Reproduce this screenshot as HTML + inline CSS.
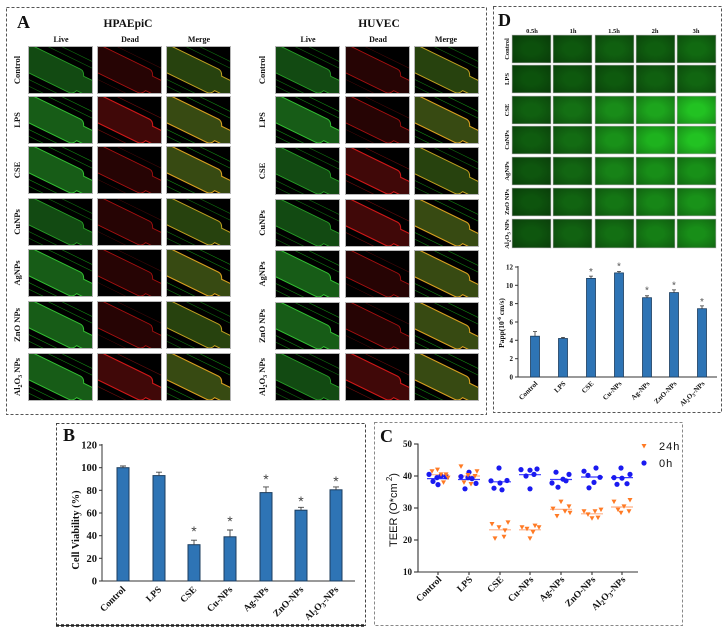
<!DOCTYPE html>
<html><head><meta charset="utf-8"><style>
html,body{margin:0;padding:0;background:#fff;}
svg{display:block;}
.s{font-family:"Liberation Serif",serif;font-weight:bold;fill:#111;}
.a{font-family:"Liberation Sans",sans-serif;fill:#111;}
.st{font-family:"Liberation Sans",sans-serif;}
</style></head><body>
<svg width="726" height="634" viewBox="0 0 726 634" xmlns="http://www.w3.org/2000/svg">
<defs>
<radialGradient id="vig" cx="50%" cy="50%" r="70%">
<stop offset="0.3" stop-color="#000" stop-opacity="0"/>
<stop offset="1" stop-color="#000" stop-opacity="0.28"/>
</radialGradient>
<symbol id="lvA" viewBox="0 0 65 48">
<rect width="65" height="48" fill="#000"/>
<g transform="translate(0,12) rotate(26)">
<path d="M-40,-19H100M-40,-25H100M-40,19H100M-40,25H100" stroke="#0f6a0f" stroke-width="0.6"/>
<path d="M-30,-13H52Q56,-13 58,-8H90V8H58Q56,13 52,13H-30Z" fill="#124a12" stroke="#27a027" stroke-width="0.9"/>
</g>
<rect x="0.5" y="0.5" width="64" height="47" fill="none" stroke="#b5b5b5"/>
</symbol>
<symbol id="lvB" viewBox="0 0 65 48">
<rect width="65" height="48" fill="#000"/>
<g transform="translate(0,12) rotate(26)">
<path d="M-40,-19H100M-40,-25H100M-40,19H100M-40,25H100" stroke="#128012" stroke-width="0.6"/>
<path d="M-30,-13H52Q56,-13 58,-8H90V8H58Q56,13 52,13H-30Z" fill="#175c17" stroke="#33c033" stroke-width="1"/>
</g>
<rect x="0.5" y="0.5" width="64" height="47" fill="none" stroke="#b5b5b5"/>
</symbol>
<symbol id="ddA" viewBox="0 0 65 48">
<rect width="65" height="48" fill="#000"/>
<g transform="translate(0,12) rotate(26)">
<path d="M-40,-19H100M-40,19H100" stroke="#4a0808" stroke-width="0.5"/>
<path d="M-30,-13H52Q56,-13 58,-8H90V8H58Q56,13 52,13H-30Z" fill="#260404" stroke="#a81010" stroke-width="0.9"/>
</g>
<rect x="0.5" y="0.5" width="64" height="47" fill="none" stroke="#b5b5b5"/>
</symbol>
<symbol id="ddB" viewBox="0 0 65 48">
<rect width="65" height="48" fill="#000"/>
<g transform="translate(0,12) rotate(26)">
<path d="M-40,-19H100M-40,19H100" stroke="#6a0c0c" stroke-width="0.6"/>
<path d="M-30,-13H52Q56,-13 58,-8H90V8H58Q56,13 52,13H-30Z" fill="#400808" stroke="#d01818" stroke-width="1.1"/>
</g>
<rect x="0.5" y="0.5" width="64" height="47" fill="none" stroke="#b5b5b5"/>
</symbol>
<symbol id="mgA" viewBox="0 0 65 48">
<rect width="65" height="48" fill="#000"/>
<g transform="translate(0,12) rotate(26)">
<path d="M-40,-19H100M-40,-25H100M-40,19H100M-40,25H100" stroke="#0f6a0f" stroke-width="0.6"/>
<path d="M-30,-13H52Q56,-13 58,-8H90V8H58Q56,13 52,13H-30Z" fill="#27420e" stroke="#c0a020" stroke-width="1"/>
</g>
<rect x="0.5" y="0.5" width="64" height="47" fill="none" stroke="#b5b5b5"/>
</symbol>
<symbol id="mgB" viewBox="0 0 65 48">
<rect width="65" height="48" fill="#000"/>
<g transform="translate(0,12) rotate(26)">
<path d="M-40,-19H100M-40,-25H100M-40,19H100M-40,25H100" stroke="#128012" stroke-width="0.6"/>
<path d="M-30,-13H52Q56,-13 58,-8H90V8H58Q56,13 52,13H-30Z" fill="#374a12" stroke="#d8a020" stroke-width="1.1"/>
</g>
<rect x="0.5" y="0.5" width="64" height="47" fill="none" stroke="#b5b5b5"/>
</symbol>
</defs>

<!-- Panel borders -->
<g fill="none" stroke-dasharray="3,2">
<rect x="6.5" y="7.5" width="480" height="407" stroke="#555"/>
<rect x="493.5" y="6.5" width="228" height="406" stroke="#555"/>
<rect x="56.5" y="423.5" width="309" height="202" stroke="#444"/>
<line x1="56" y1="625.5" x2="366" y2="625.5" stroke="#222" stroke-width="2.5"/>
<rect x="374.5" y="422.5" width="308" height="203" stroke="#888"/>
</g>

<!-- Panel A -->
<text class="s" x="17" y="28" font-size="18">A</text>
<text class="s" x="128" y="27" font-size="11.5" text-anchor="middle">HPAEpiC</text>
<text class="s" x="379" y="27" font-size="11.5" text-anchor="middle">HUVEC</text>
<g class="s" font-size="8" text-anchor="middle">
<text x="61" y="42">Live</text><text x="130" y="42">Dead</text><text x="199" y="42">Merge</text>
<text x="308" y="42">Live</text><text x="378" y="42">Dead</text><text x="446" y="42">Merge</text>
</g>
<g class="s" font-size="8.5" text-anchor="middle">
<text transform="translate(20,70) rotate(-90)">Control</text>
<text transform="translate(20,120) rotate(-90)">LPS</text>
<text transform="translate(20,170) rotate(-90)">CSE</text>
<text transform="translate(20,222) rotate(-90)">CuNPs</text>
<text transform="translate(20,273) rotate(-90)">AgNPs</text>
<text transform="translate(20,325) rotate(-90)">ZnO NPs</text>
<text transform="translate(20,377) rotate(-90)">Al<tspan font-size="6" dy="2">2</tspan><tspan dy="-2">O</tspan><tspan font-size="6" dy="2">3</tspan><tspan dy="-2"> NPs</tspan></text>
<text transform="translate(265,70) rotate(-90)">Control</text>
<text transform="translate(265,120) rotate(-90)">LPS</text>
<text transform="translate(265,171) rotate(-90)">CSE</text>
<text transform="translate(265,223) rotate(-90)">CuNPs</text>
<text transform="translate(265,274) rotate(-90)">AgNPs</text>
<text transform="translate(265,326) rotate(-90)">ZnO NPs</text>
<text transform="translate(265,377) rotate(-90)">Al<tspan font-size="6" dy="2">2</tspan><tspan dy="-2">O</tspan><tspan font-size="6" dy="2">3</tspan><tspan dy="-2"> NPs</tspan></text>
</g>
<!-- HPAEpiC images -->
<use href="#lvA" x="28" y="46" width="65" height="48"/><use href="#ddA" x="97" y="46" width="65" height="48"/><use href="#mgA" x="166" y="46" width="65" height="48"/>
<use href="#lvB" x="28" y="96" width="65" height="48"/><use href="#ddB" x="97" y="96" width="65" height="48"/><use href="#mgB" x="166" y="96" width="65" height="48"/>
<use href="#lvB" x="28" y="146" width="65" height="48"/><use href="#ddA" x="97" y="146" width="65" height="48"/><use href="#mgB" x="166" y="146" width="65" height="48"/>
<use href="#lvA" x="28" y="198" width="65" height="48"/><use href="#ddA" x="97" y="198" width="65" height="48"/><use href="#mgA" x="166" y="198" width="65" height="48"/>
<use href="#lvB" x="28" y="249" width="65" height="48"/><use href="#ddA" x="97" y="249" width="65" height="48"/><use href="#mgB" x="166" y="249" width="65" height="48"/>
<use href="#lvB" x="28" y="301" width="65" height="48"/><use href="#ddA" x="97" y="301" width="65" height="48"/><use href="#mgA" x="166" y="301" width="65" height="48"/>
<use href="#lvB" x="28" y="353" width="65" height="48"/><use href="#ddB" x="97" y="353" width="65" height="48"/><use href="#mgB" x="166" y="353" width="65" height="48"/>
<!-- HUVEC images -->
<use href="#lvA" x="275" y="46" width="65" height="48"/><use href="#ddA" x="345" y="46" width="65" height="48"/><use href="#mgA" x="414" y="46" width="65" height="48"/>
<use href="#lvB" x="275" y="96" width="65" height="48"/><use href="#ddA" x="345" y="96" width="65" height="48"/><use href="#mgB" x="414" y="96" width="65" height="48"/>
<use href="#lvA" x="275" y="147" width="65" height="48"/><use href="#ddB" x="345" y="147" width="65" height="48"/><use href="#mgA" x="414" y="147" width="65" height="48"/>
<use href="#lvA" x="275" y="199" width="65" height="48"/><use href="#ddB" x="345" y="199" width="65" height="48"/><use href="#mgB" x="414" y="199" width="65" height="48"/>
<use href="#lvB" x="275" y="250" width="65" height="48"/><use href="#ddA" x="345" y="250" width="65" height="48"/><use href="#mgB" x="414" y="250" width="65" height="48"/>
<use href="#lvB" x="275" y="302" width="65" height="48"/><use href="#ddA" x="345" y="302" width="65" height="48"/><use href="#mgB" x="414" y="302" width="65" height="48"/>
<use href="#lvA" x="275" y="353" width="65" height="48"/><use href="#ddB" x="345" y="353" width="65" height="48"/><use href="#mgB" x="414" y="353" width="65" height="48"/>

<!-- Panel D -->
<text class="s" x="498" y="26" font-size="18">D</text>
<g class="s" font-size="6.5" text-anchor="middle">
<text x="532" y="33">0.5h</text><text x="573" y="33">1h</text><text x="614" y="33">1.5h</text><text x="655" y="33">2h</text><text x="696" y="33">3h</text>
</g>
<g class="s" font-size="6.5" text-anchor="middle">
<text transform="translate(509,49) rotate(-90)">Control</text>
<text transform="translate(509,79) rotate(-90)">LPS</text>
<text transform="translate(509,110) rotate(-90)">CSE</text>
<text transform="translate(509,140) rotate(-90)">CuNPs</text>
<text transform="translate(509,171) rotate(-90)">AgNPs</text>
<text transform="translate(509,202) rotate(-90)">ZnO NPs</text>
<text transform="translate(509,234) rotate(-90)">Al<tspan font-size="5" dy="1.5">2</tspan><tspan dy="-1.5">O</tspan><tspan font-size="5" dy="1.5">3</tspan><tspan dy="-1.5"> NPs</tspan></text>
</g>
<g stroke="#d8d8d8" stroke-width="0.8">
<rect x="512" y="35" width="39" height="28" fill="#0c500c"/><rect x="553" y="35" width="39" height="28" fill="#0e580e"/><rect x="595" y="35" width="39" height="28" fill="#106010"/><rect x="636" y="35" width="39" height="28" fill="#0f5e0f"/><rect x="677" y="35" width="39" height="28" fill="#116a11"/>
<rect x="512" y="65" width="39" height="28" fill="#0c520c"/><rect x="553" y="65" width="39" height="28" fill="#0e590e"/><rect x="595" y="65" width="39" height="28" fill="#0e5a0e"/><rect x="636" y="65" width="39" height="28" fill="#106010"/><rect x="677" y="65" width="39" height="28" fill="#116611"/>
<rect x="512" y="96" width="39" height="28" fill="#106010"/><rect x="553" y="96" width="39" height="28" fill="#147014"/><rect x="595" y="96" width="39" height="28" fill="#198c19"/><rect x="636" y="96" width="39" height="28" fill="#1da51d"/><rect x="677" y="96" width="39" height="28" fill="#22c222"/>
<rect x="512" y="126" width="39" height="28" fill="#0f5c0f"/><rect x="553" y="126" width="39" height="28" fill="#136c13"/><rect x="595" y="126" width="39" height="28" fill="#199119"/><rect x="636" y="126" width="39" height="28" fill="#1eb21e"/><rect x="677" y="126" width="39" height="28" fill="#22c222"/>
<rect x="512" y="157" width="39" height="28" fill="#0e560e"/><rect x="553" y="157" width="39" height="28" fill="#126612"/><rect x="595" y="157" width="39" height="28" fill="#178217"/><rect x="636" y="157" width="39" height="28" fill="#188e18"/><rect x="677" y="157" width="39" height="28" fill="#189018"/>
<rect x="512" y="188" width="39" height="28" fill="#0d540d"/><rect x="553" y="188" width="39" height="28" fill="#116411"/><rect x="595" y="188" width="39" height="28" fill="#147614"/><rect x="636" y="188" width="39" height="28" fill="#178617"/><rect x="677" y="188" width="39" height="28" fill="#199219"/>
<rect x="512" y="219" width="39" height="29" fill="#0e560e"/><rect x="553" y="219" width="39" height="29" fill="#116211"/><rect x="595" y="219" width="39" height="29" fill="#136f13"/><rect x="636" y="219" width="39" height="29" fill="#157e15"/><rect x="677" y="219" width="39" height="29" fill="#188e18"/>
</g>
<g fill="url(#vig)">
<rect x="512" y="35" width="39" height="28"/><rect x="553" y="35" width="39" height="28"/><rect x="595" y="35" width="39" height="28"/><rect x="636" y="35" width="39" height="28"/><rect x="677" y="35" width="39" height="28"/>
<rect x="512" y="65" width="39" height="28"/><rect x="553" y="65" width="39" height="28"/><rect x="595" y="65" width="39" height="28"/><rect x="636" y="65" width="39" height="28"/><rect x="677" y="65" width="39" height="28"/>
<rect x="512" y="96" width="39" height="28"/><rect x="553" y="96" width="39" height="28"/><rect x="595" y="96" width="39" height="28"/><rect x="636" y="96" width="39" height="28"/><rect x="677" y="96" width="39" height="28"/>
<rect x="512" y="126" width="39" height="28"/><rect x="553" y="126" width="39" height="28"/><rect x="595" y="126" width="39" height="28"/><rect x="636" y="126" width="39" height="28"/><rect x="677" y="126" width="39" height="28"/>
<rect x="512" y="157" width="39" height="28"/><rect x="553" y="157" width="39" height="28"/><rect x="595" y="157" width="39" height="28"/><rect x="636" y="157" width="39" height="28"/><rect x="677" y="157" width="39" height="28"/>
<rect x="512" y="188" width="39" height="28"/><rect x="553" y="188" width="39" height="28"/><rect x="595" y="188" width="39" height="28"/><rect x="636" y="188" width="39" height="28"/><rect x="677" y="188" width="39" height="28"/>
<rect x="512" y="219" width="39" height="29"/><rect x="553" y="219" width="39" height="29"/><rect x="595" y="219" width="39" height="29"/><rect x="636" y="219" width="39" height="29"/><rect x="677" y="219" width="39" height="29"/>
</g>

<!-- D bar chart -->
<g stroke="#333" stroke-width="1">
<line x1="518" y1="266" x2="518" y2="377.5"/>
<line x1="518" y1="377" x2="717" y2="377"/>
<line x1="515" y1="377" x2="518" y2="377"/><line x1="515" y1="358.7" x2="518" y2="358.7"/><line x1="515" y1="340.3" x2="518" y2="340.3"/><line x1="515" y1="322" x2="518" y2="322"/><line x1="515" y1="303.6" x2="518" y2="303.6"/><line x1="515" y1="285.3" x2="518" y2="285.3"/><line x1="515" y1="267" x2="518" y2="267"/>
</g>
<g class="s" font-size="7" text-anchor="end">
<text x="513" y="379.5">0</text><text x="513" y="361.2">2</text><text x="513" y="342.8">4</text><text x="513" y="324.5">6</text><text x="513" y="306.1">8</text><text x="513" y="287.8">10</text><text x="513" y="269.5">12</text>
</g>
<text class="s" font-size="7.5" text-anchor="middle" transform="translate(504,323) rotate(-90)">Papp(10<tspan font-size="5" dy="-3">-6</tspan><tspan dy="3"> cm/s)</tspan></text>
<g fill="#2e74b5" stroke="#1c3d5e" stroke-width="0.8">
<rect x="530.5" y="336.2" width="9" height="40.8"/>
<rect x="558.5" y="338.5" width="9" height="38.5"/>
<rect x="586.5" y="278.4" width="9" height="98.6"/>
<rect x="614.5" y="272.9" width="9" height="104.1"/>
<rect x="642.5" y="297.7" width="9" height="79.3"/>
<rect x="669.5" y="292.6" width="9" height="84.4"/>
<rect x="697.5" y="308.7" width="9" height="68.3"/>
</g>
<g stroke="#333" stroke-width="0.8">
<path d="M535,336.2V331.6M533,331.6H537"/>
<path d="M563,338.5V337.4M561,337.4H565"/>
<path d="M591,278.4V276.1M589,276.1H593"/>
<path d="M619,272.9V271.5M617,271.5H621"/>
<path d="M647,297.7V295.8M645,295.8H649"/>
<path d="M674,292.6V289.9M672,289.9H676"/>
<path d="M702,308.7V305.9M700,305.9H704"/>
</g>
<g class="st" font-size="10" text-anchor="middle" fill="#555">
<text x="591" y="275">*</text><text x="619" y="269.5">*</text><text x="647" y="293.5">*</text><text x="674" y="288.5">*</text><text x="702" y="305">*</text>
</g>
<g class="s" font-size="7" text-anchor="end">
<text transform="translate(538,384) rotate(-45)">Control</text>
<text transform="translate(566,384) rotate(-45)">LPS</text>
<text transform="translate(594,384) rotate(-45)">CSE</text>
<text transform="translate(622,384) rotate(-45)">Cu-NPs</text>
<text transform="translate(650,384) rotate(-45)">Ag-NPs</text>
<text transform="translate(677,384) rotate(-45)">ZnO-NPs</text>
<text transform="translate(705,384) rotate(-45)">Al<tspan font-size="5" dy="1.5">2</tspan><tspan dy="-1.5">O</tspan><tspan font-size="5" dy="1.5">3</tspan><tspan dy="-1.5">-NPs</tspan></text>
</g>

<!-- Panel B -->
<text class="s" x="63" y="441" font-size="18">B</text>
<g stroke="#333" stroke-width="1">
<line x1="102" y1="444" x2="102" y2="581.5"/>
<line x1="102" y1="581" x2="355" y2="581"/>
<line x1="99" y1="581" x2="102" y2="581"/><line x1="99" y1="558.3" x2="102" y2="558.3"/><line x1="99" y1="535.7" x2="102" y2="535.7"/><line x1="99" y1="513" x2="102" y2="513"/><line x1="99" y1="490.3" x2="102" y2="490.3"/><line x1="99" y1="467.7" x2="102" y2="467.7"/><line x1="99" y1="445" x2="102" y2="445"/>
</g>
<g class="s" font-size="10.5" text-anchor="end">
<text x="97" y="584.5">0</text><text x="97" y="561.8">20</text><text x="97" y="539.2">40</text><text x="97" y="516.5">60</text><text x="97" y="493.8">80</text><text x="97" y="471.2">100</text><text x="97" y="448.5">120</text>
</g>
<text class="s" font-size="10.5" text-anchor="middle" transform="translate(79,530) rotate(-90)">Cell Viability (%)</text>
<g fill="#2e74b5" stroke="#1c3d5e" stroke-width="1">
<rect x="117" y="467.7" width="12" height="113.3"/>
<rect x="153" y="475.6" width="12" height="105.4"/>
<rect x="188" y="544.7" width="12" height="36.3"/>
<rect x="224" y="536.8" width="12" height="44.2"/>
<rect x="260" y="492.6" width="12" height="88.4"/>
<rect x="295" y="510.2" width="12" height="70.8"/>
<rect x="330" y="489.8" width="12" height="91.2"/>
</g>
<g stroke="#444" stroke-width="0.9">
<path d="M123,467.7V466M120,466H126"/>
<path d="M159,475.6V472.2M156,472.2H162"/>
<path d="M194,544.7V540.2M191,540.2H197"/>
<path d="M230,536.8V530M227,530H233"/>
<path d="M266,492.6V486.9M263,486.9H269"/>
<path d="M301,510.2V507.3M298,507.3H304"/>
<path d="M336,489.8V486.9M333,486.9H339"/>
</g>
<g class="st" font-size="14" text-anchor="middle" fill="#444">
<text x="194" y="536">*</text><text x="230" y="526">*</text><text x="266" y="484">*</text><text x="301" y="506">*</text><text x="336" y="486">*</text>
</g>
<g class="s" font-size="9.5" text-anchor="end">
<text transform="translate(126,590) rotate(-45)">Control</text>
<text transform="translate(162,590) rotate(-45)">LPS</text>
<text transform="translate(197,590) rotate(-45)">CSE</text>
<text transform="translate(233,590) rotate(-45)">Cu-NPs</text>
<text transform="translate(269,590) rotate(-45)">Ag-NPs</text>
<text transform="translate(304,590) rotate(-45)">ZnO-NPs</text>
<text transform="translate(339,590) rotate(-45)">Al<tspan font-size="7" dy="2">2</tspan><tspan dy="-2">O</tspan><tspan font-size="7" dy="2">3</tspan><tspan dy="-2">-NPs</tspan></text>
</g>

<!-- Panel C -->
<text class="s" x="380" y="442" font-size="18">C</text>
<g stroke="#333" stroke-width="1.1">
<line x1="418" y1="443.5" x2="418" y2="572.5"/>
<line x1="418" y1="572" x2="638" y2="572"/>
<line x1="414" y1="572" x2="418" y2="572"/><line x1="414" y1="540" x2="418" y2="540"/><line x1="414" y1="508" x2="418" y2="508"/><line x1="414" y1="476" x2="418" y2="476"/><line x1="414" y1="444" x2="418" y2="444"/>
<line x1="438" y1="572" x2="438" y2="575"/><line x1="469" y1="572" x2="469" y2="575"/><line x1="500" y1="572" x2="500" y2="575"/><line x1="530" y1="572" x2="530" y2="575"/><line x1="561" y1="572" x2="561" y2="575"/><line x1="592" y1="572" x2="592" y2="575"/><line x1="622" y1="572" x2="622" y2="575"/>
</g>
<g class="s" font-size="9" text-anchor="end">
<text x="412" y="575">10</text><text x="412" y="543">20</text><text x="412" y="511">30</text><text x="412" y="479">40</text><text x="412" y="447">50</text>
</g>
<text class="a" font-size="11" text-anchor="middle" transform="translate(397,510) rotate(-90)">TEER (O*cm<tspan font-size="8" dy="-5"> 2</tspan><tspan dy="5">)</tspan></text>
<!-- mean lines -->
<g stroke="#3b3bff" stroke-width="1.2">
<line x1="427" y1="478.6" x2="449" y2="478.6"/><line x1="458" y1="479.5" x2="480" y2="479.5"/><line x1="489" y1="481.8" x2="511" y2="481.8"/><line x1="519" y1="474.7" x2="541" y2="474.7"/><line x1="550" y1="479.5" x2="572" y2="479.5"/><line x1="581" y1="477" x2="603" y2="477"/><line x1="611" y1="477.6" x2="633" y2="477.6"/>
</g>
<g stroke="#ffb088" stroke-width="1.2">
<line x1="427" y1="474.7" x2="449" y2="474.7"/><line x1="458" y1="476" x2="480" y2="476"/><line x1="489" y1="529.8" x2="511" y2="529.8"/><line x1="519" y1="529.8" x2="541" y2="529.8"/><line x1="550" y1="509.3" x2="572" y2="509.3"/><line x1="581" y1="513.8" x2="603" y2="513.8"/><line x1="611" y1="507" x2="633" y2="507"/>
</g>
<!-- 0h blue dots -->
<g fill="#1a1af0">
<circle cx="429" cy="474.4" r="2.6"/><circle cx="433" cy="481.4" r="2.6"/><circle cx="437" cy="477.6" r="2.6"/><circle cx="441" cy="476" r="2.6"/><circle cx="438" cy="484.6" r="2.6"/><circle cx="446" cy="476.6" r="2.6"/>
<circle cx="461" cy="476.6" r="2.6"/><circle cx="465" cy="488.8" r="2.6"/><circle cx="469" cy="472.2" r="2.6"/><circle cx="472" cy="478.6" r="2.6"/><circle cx="476" cy="483.4" r="2.6"/><circle cx="468" cy="477.6" r="2.6"/>
<circle cx="491" cy="480.8" r="2.6"/><circle cx="494" cy="488.2" r="2.6"/><circle cx="499" cy="468" r="2.6"/><circle cx="500" cy="483" r="2.6"/><circle cx="507" cy="480.5" r="2.6"/><circle cx="502" cy="489.8" r="2.6"/>
<circle cx="521" cy="469.6" r="2.6"/><circle cx="526" cy="476" r="2.6"/><circle cx="530" cy="488.8" r="2.6"/><circle cx="530" cy="470.2" r="2.6"/><circle cx="537" cy="469" r="2.6"/><circle cx="534" cy="474.4" r="2.6"/>
<circle cx="552" cy="483" r="2.6"/><circle cx="556" cy="472.2" r="2.6"/><circle cx="558" cy="487.2" r="2.6"/><circle cx="563" cy="479.2" r="2.6"/><circle cx="569" cy="474.4" r="2.6"/><circle cx="566" cy="480.8" r="2.6"/>
<circle cx="584" cy="471.2" r="2.6"/><circle cx="588" cy="475.4" r="2.6"/><circle cx="589" cy="487.8" r="2.6"/><circle cx="596" cy="468" r="2.6"/><circle cx="594" cy="482.4" r="2.6"/><circle cx="600" cy="477.3" r="2.6"/>
<circle cx="614" cy="477.6" r="2.6"/><circle cx="617" cy="484.3" r="2.6"/><circle cx="621" cy="468" r="2.6"/><circle cx="622" cy="478.2" r="2.6"/><circle cx="627" cy="483.7" r="2.6"/><circle cx="630" cy="474.4" r="2.6"/>
</g>
<!-- 24h orange triangles -->
<g fill="#ff7a24">
<path d="M429.5,469.2h5l-2.5,4.5z M435,467.6h5l-2.5,4.5z M438.5,472.4h5l-2.5,4.5z M443.5,472.4h5l-2.5,4.5z M441,480.4h5l-2.5,4.5z M445.5,475.6h5l-2.5,4.5z"/>
<path d="M458.5,464.4h5l-2.5,4.5z M461.5,480.4h5l-2.5,4.5z M468.5,482h5l-2.5,4.5z M474.5,469.2h5l-2.5,4.5z M472.5,474h5l-2.5,4.5z M465.5,473h5l-2.5,4.5z"/>
<path d="M489.5,522h5l-2.5,4.5z M492.5,536.4h5l-2.5,4.5z M496.5,525.2h5l-2.5,4.5z M501.5,534.8h5l-2.5,4.5z M505.5,520.4h5l-2.5,4.5z M502.5,528.4h5l-2.5,4.5z"/>
<path d="M519.5,525.2h5l-2.5,4.5z M524.5,526.8h5l-2.5,4.5z M527.5,536.4h5l-2.5,4.5z M532.5,523.6h5l-2.5,4.5z M530.5,530h5l-2.5,4.5z M536.5,525.2h5l-2.5,4.5z"/>
<path d="M550.5,506.6h5l-2.5,4.5z M554.5,514h5l-2.5,4.5z M558.5,499.6h5l-2.5,4.5z M562.5,509.2h5l-2.5,4.5z M566.5,504.4h5l-2.5,4.5z M567.5,510.8h5l-2.5,4.5z"/>
<path d="M581.5,509.2h5l-2.5,4.5z M585.5,512.4h5l-2.5,4.5z M589.5,516.2h5l-2.5,4.5z M592.5,509.2h5l-2.5,4.5z M595.5,515.6h5l-2.5,4.5z M598.5,507.6h5l-2.5,4.5z"/>
<path d="M611.5,499.6h5l-2.5,4.5z M615.5,507.6h5l-2.5,4.5z M618.5,510.8h5l-2.5,4.5z M621.5,504.4h5l-2.5,4.5z M626.5,509.2h5l-2.5,4.5z M627.5,498h5l-2.5,4.5z"/>
</g>
<!-- legend -->
<path d="M641.5,444h5l-2.5,4.5z" fill="#ff7a24"/>
<circle cx="644" cy="463" r="2.6" fill="#1a1af0"/>
<text class="a" x="659" y="450" font-size="11" letter-spacing="1">24h</text>
<text class="a" x="659" y="467" font-size="11" letter-spacing="1">0h</text>
<g class="s" font-size="9.5" text-anchor="end">
<text transform="translate(442,580) rotate(-45)">Control</text>
<text transform="translate(473,580) rotate(-45)">LPS</text>
<text transform="translate(504,580) rotate(-45)">CSE</text>
<text transform="translate(534,580) rotate(-45)">Cu-NPs</text>
<text transform="translate(565,580) rotate(-45)">Ag-NPs</text>
<text transform="translate(596,580) rotate(-45)">ZnO-NPs</text>
<text transform="translate(626,580) rotate(-45)">Al<tspan font-size="7" dy="2">2</tspan><tspan dy="-2">O</tspan><tspan font-size="7" dy="2">3</tspan><tspan dy="-2">-NPs</tspan></text>
</g>
</svg>
</body></html>
